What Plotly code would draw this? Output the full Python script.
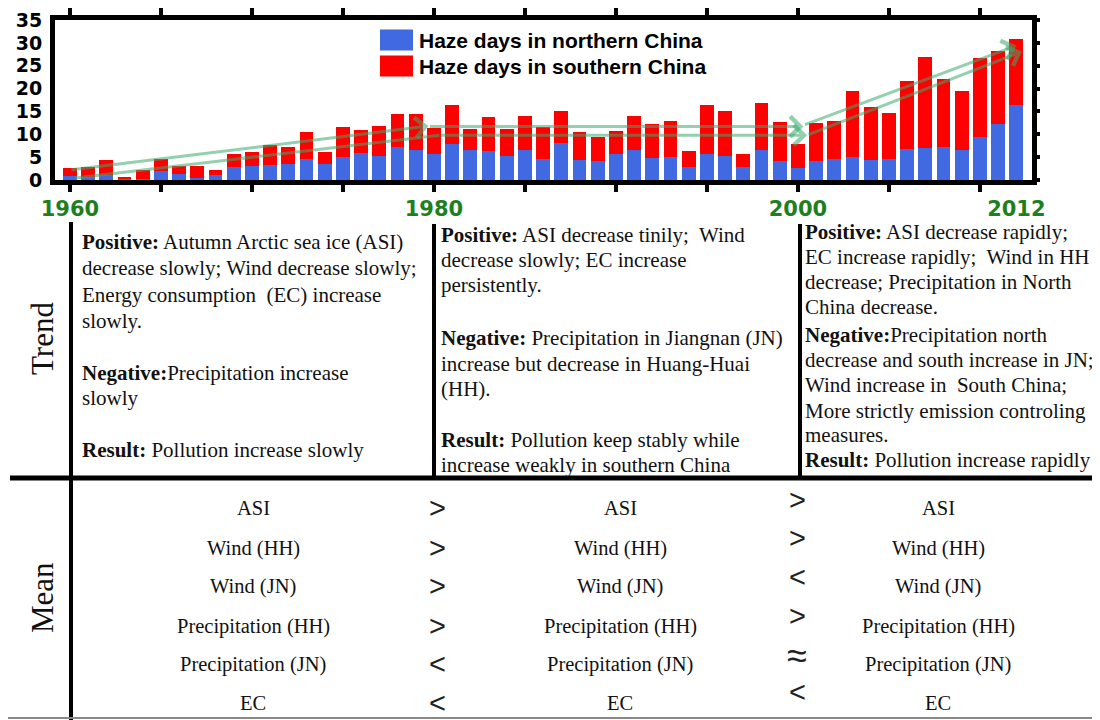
import plotly.graph_objects as go

# ---------------- data ----------------
years = list(range(1960, 2013))
north = [0.9, 0.6, 1.1, 0.2, 0.3, 2.0, 1.3, 0.5, 1.1, 2.8,
         3.1, 3.3, 3.5, 4.5, 3.5, 5.0, 5.8, 5.3, 7.3, 6.6,
         5.6, 7.9, 6.6, 6.3, 5.3, 6.6, 4.6, 8.2, 4.4, 4.2,
         5.6, 6.6, 4.9, 5.1, 2.8, 5.7, 5.3, 2.8, 6.6, 4.2,
         2.6, 4.1, 4.7, 5.0, 4.4, 4.6, 6.8, 7.1, 7.3, 6.6,
         9.5, 12.2, 16.3]
south = [1.7, 2.2, 3.3, 0.5, 1.9, 2.6, 1.8, 2.6, 1.0, 2.8,
         3.0, 4.4, 3.7, 5.9, 2.6, 6.7, 5.1, 6.6, 7.1, 7.8,
         5.7, 8.4, 4.6, 7.4, 5.9, 7.4, 7.0, 7.0, 6.2, 5.2,
         5.1, 7.4, 7.4, 7.8, 3.5, 10.8, 9.9, 2.8, 10.2, 8.4,
         5.3, 8.3, 8.2, 14.5, 11.5, 10.1, 14.9, 19.9, 14.7, 12.9,
         17.1, 16.1, 14.5]
series_names = ["Haze days in northern China", "Haze days in southern China"]
ytick_vals = [0, 5, 10, 15, 20, 25, 30, 35]
xminor_ticks = list(range(1960, 2011, 5))
xlabel_years = [1960, 1980, 2000, 2012]

# trend arrows: (x_tail, y_tail, x_head, y_head, has_head)
arrow_segments = [
    (1960.0, 2.2, 1979.7, 11.8, True),
    (1979.7, 11.7, 2000.3, 11.7, True),
    (2000.3, 12.0, 2012.0, 29.4, True),
    (1960.2, 0.4, 1980.3, 9.8, False),
    (1980.3, 9.8, 2000.5, 9.8, True),
    (2000.5, 9.8, 2012.3, 28.1, True),
]

trend_col1 = ["<b>Positive:</b> Autumn Arctic sea ice (ASI)",
              "decrease slowly; Wind decrease slowly;",
              "Energy consumption  (EC) increase",
              "slowly.",
              "",
              "<b>Negative:</b>Precipitation increase",
              "slowly",
              "",
              "<b>Result:</b> Pollution increase slowly"]
trend_col2 = ["<b>Positive:</b> ASI decrease tinily;  Wind",
              "decrease slowly; EC increase",
              "persistently.",
              "",
              "<b>Negative:</b> Precipitation in Jiangnan (JN)",
              "increase but decrease in Huang-Huai",
              "(HH).",
              "",
              "<b>Result:</b> Pollution keep stably while",
              "increase weakly in southern China"]
trend_col3 = ["<b>Positive:</b> ASI decrease rapidly;",
              "EC increase rapidly;  Wind in HH",
              "decrease; Precipitation in North",
              "China decrease.",
              "<b>Negative:</b>Precipitation north",
              "decrease and south increase in JN;",
              "Wind increase in  South China;",
              "More strictly emission controling",
              "measures.",
              "<b>Result:</b> Pollution increase rapidly"]

mean_vars = ["ASI", "Wind (HH)", "Wind (JN)", "Precipitation (HH)",
             "Precipitation (JN)", "EC"]
compare_1_2 = [">", ">", ">", ">", "<", "<"]
compare_2_3 = [">", ">", "<", ">", "≈", "<"]

# ---------------- layout helpers ----------------
# the page body adds an 8px margin, so the figure starts at (8, 8) on screen
OFF = 8
W, H = 1092, 712
def px(x):
    return (x - OFF) / W
def py(y):
    return 1 - (y - OFF) / H

SERIF = "Liberation Serif, Times New Roman, serif"
SANS = "Liberation Sans, Arial, sans-serif"
BLUE = "#4169E1"
RED = "#FF0000"
GREEN = "#1f7f1f"

fig = go.Figure()
fig.add_trace(go.Bar(x=years, y=north, name=series_names[0], width=0.76,
                     marker=dict(color=BLUE, line=dict(width=0)),
                     showlegend=False))
fig.add_trace(go.Bar(x=years, y=south, name=series_names[1], width=0.76,
                     marker=dict(color=RED, line=dict(width=0)),
                     showlegend=False))
# helper traces so the overlay axes get drawn
fig.add_trace(go.Scatter(x=[None], y=[None], xaxis="x2", yaxis="y",
                         showlegend=False, hoverinfo="skip"))
fig.add_trace(go.Scatter(x=[None], y=[None], xaxis="x", yaxis="y2",
                         showlegend=False, hoverinfo="skip"))

annotations = []
shapes = []

# trend arrows
ARROW = "rgba(60,170,110,0.55)"
for (x0, y0, x1, y1, head) in arrow_segments:
    annotations.append(dict(x=x1, y=y1, ax=x0, ay=y0, xref="x", yref="y",
                            axref="x", ayref="y", text="", showarrow=True,
                            arrowhead=4 if head else 0, arrowsize=1.3,
                            arrowwidth=3, arrowcolor=ARROW,
                            standoff=0, startstandoff=0))

# manual legend
leg_rows = [(40, BLUE, series_names[0]), (66, RED, series_names[1])]
for (yc, col, name) in leg_rows:
    shapes.append(dict(type="rect", xref="paper", yref="paper",
                       x0=px(380), x1=px(413), y0=py(yc - 10.5), y1=py(yc + 10.5),
                       fillcolor=col, line=dict(width=0)))
    annotations.append(dict(x=px(417), y=py(yc), xref="paper", yref="paper",
                            text=name, showarrow=False, xanchor="left",
                            yanchor="middle",
                            font=dict(family=SANS, size=21, color="black",
                                      weight="bold")))

# table lines
LINE = dict(color="black", width=4)
shapes += [
    dict(type="line", xref="paper", yref="paper", x0=px(71), x1=px(71),
         y0=py(222), y1=py(720), line=LINE),
    dict(type="line", xref="paper", yref="paper", x0=px(10), x1=px(1100),
         y0=py(478), y1=py(478), line=dict(color="black", width=5)),
    dict(type="line", xref="paper", yref="paper", x0=px(434), x1=px(434),
         y0=py(224), y1=py(478), line=LINE),
    dict(type="line", xref="paper", yref="paper", x0=px(800), x1=px(800),
         y0=py(224), y1=py(478), line=LINE),
    dict(type="line", xref="paper", yref="paper", x0=px(8), x1=px(1100),
         y0=py(718), y1=py(718), line=dict(color="#888888", width=2)),
]

# row labels
for label, yc in [("Trend", 339), ("Mean", 598)]:
    annotations.append(dict(x=px(42), y=py(yc), xref="paper", yref="paper",
                            text=label, textangle=-90, showarrow=False,
                            xanchor="center", yanchor="middle",
                            font=dict(family=SERIF, size=31, color="#111")))

TFONT = dict(family=SERIF, size=21, color="#111")
col1_y = [242, 268, 295, 321, 347, 373, 398, 424, 450]
col2_y = [235, 260, 285, 311, 338, 364, 389, 414, 440, 465]
col3_y = [232, 257, 282, 307, 335, 360, 385, 411, 435, 460]
for lines, ys, x in [(trend_col1, col1_y, 80), (trend_col2, col2_y, 439),
                     (trend_col3, col3_y, 803)]:
    for t, yv in zip(lines, ys):
        if not t:
            continue
        annotations.append(dict(x=px(x), y=py(yv), xref="paper", yref="paper",
                                text=t, showarrow=False, xanchor="left",
                                yanchor="middle", font=TFONT))

# mean section
row_y = [508, 548, 586, 626, 664, 703]
sym2_y = [500, 538, 577, 616, 655, 692]
MFONT = dict(family=SERIF, size=20.5, color="#111")
def sym_font(s):
    return dict(family=SANS, size=36 if s == "≈" else 29, color="#222")
for i, v in enumerate(mean_vars):
    for cx in (253, 620, 938):
        annotations.append(dict(x=px(cx), y=py(row_y[i]), xref="paper",
                                yref="paper", text=v, showarrow=False,
                                xanchor="center", yanchor="middle", font=MFONT))
    annotations.append(dict(x=px(437), y=py(row_y[i]), xref="paper",
                            yref="paper", text=compare_1_2[i], showarrow=False,
                            xanchor="center", yanchor="middle",
                            font=sym_font(compare_1_2[i])))
    annotations.append(dict(x=px(797), y=py(sym2_y[i]), xref="paper",
                            yref="paper", text=compare_2_3[i], showarrow=False,
                            xanchor="center", yanchor="middle",
                            font=sym_font(compare_2_3[i])))

fig.update_layout(
    width=W, height=H, autosize=False,
    margin=dict(l=0, r=0, t=0, b=0, pad=0, autoexpand=False),
    paper_bgcolor="white", plot_bgcolor="white",
    barmode="stack",
    showlegend=False,
    xaxis=dict(domain=[px(55), px(1032)], range=[1959.18, 2012.86],
               showline=True, linewidth=5, linecolor="black", mirror="ticks",
               ticks="outside", ticklen=7, tickwidth=4, tickcolor="black",
               tickvals=xminor_ticks, showticklabels=False,
               showgrid=False, zeroline=False, anchor="y", automargin=False),
    xaxis2=dict(overlaying="x", matches="x", anchor="y", side="bottom",
                tickvals=xlabel_years, ticktext=[str(v) for v in xlabel_years],
                tickfont=dict(family="DejaVu Sans", size=21, color=GREEN,
                              weight="bold"),
                ticks="", showline=False, showgrid=False, zeroline=False,
                ticklabelstandoff=14, automargin=False),
    yaxis=dict(domain=[py(180), py(20)], range=[0, 35],
               showline=True, linewidth=5, linecolor="black", mirror=True,
               ticks="", tickvals=ytick_vals,
               tickfont=dict(family="DejaVu Sans", size=19, color="black",
                             weight="bold"),
               showgrid=False, zeroline=False, anchor="x",
               ticklabelstandoff=4, automargin=False),
    yaxis2=dict(overlaying="y", matches="y", side="right", anchor="x",
                ticks="outside", ticklen=7, tickwidth=4, tickcolor="black",
                tickvals=ytick_vals, showticklabels=False, showline=False,
                showgrid=False, zeroline=False, automargin=False),
    annotations=annotations,
    shapes=shapes,
)

fig.write_html("out.html")
